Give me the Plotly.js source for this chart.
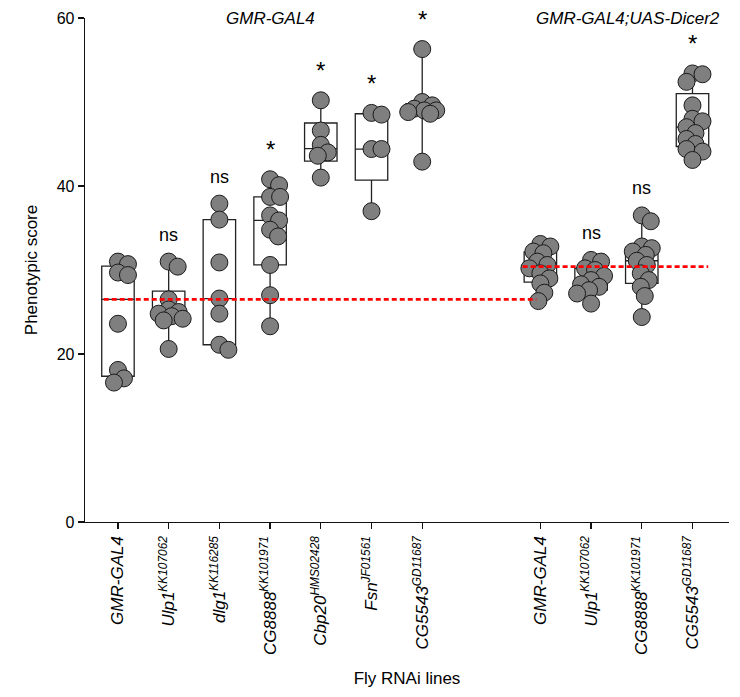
<!DOCTYPE html>
<html><head><meta charset="utf-8">
<script src="https://cdn.plot.ly/plotly-3.0.1.min.js"></script>
<style>html,body{margin:0;padding:0;background:#fff}#chart{width:740px;height:697px}</style>
</head><body><div id="chart"></div>
<script>
// ---- data ----
const groupTitles = ['GMR-GAL4', 'GMR-GAL4;UAS-Dicer2'];
const lines = ['GMR-GAL4', 'Ulp1|KK107062', 'dlg1|KK116285', 'CG8888|KK101971', 'Cbp20|HMS02428', 'Fsn|JF01561', 'CG5543|GD11687',
               'GMR-GAL4', 'Ulp1|KK107062', 'CG8888|KK101971', 'CG5543|GD11687'];
const background = [0, 0, 0, 0, 0, 0, 0, 1, 1, 1, 1];   // 0 = GMR-GAL4, 1 = GMR-GAL4;UAS-Dicer2
const significance = ['', 'ns', 'ns', '*', '*', '*', '*', '', 'ns', 'ns', '*'];

const gmr_GMRGAL4   = [31.0, 30.7, 29.7, 29.4, 23.6, 18.1, 17.1, 16.6];
const gmr_Ulp1      = [31.0, 30.4, 26.5, 25.3, 25.0, 24.8, 24.5, 24.2, 24.0, 20.6];
const gmr_dlg1      = [37.9, 36.0, 30.9, 26.6, 24.8, 21.1, 20.5];
const gmr_CG8888    = [40.8, 40.1, 38.7, 38.7, 36.5, 35.9, 34.8, 34.0, 30.6, 27.0, 23.3];
const gmr_Cbp20     = [50.2, 46.6, 44.9, 44.0, 43.6, 41.0];
const gmr_Fsn       = [48.7, 48.5, 44.4, 44.4, 37.0];
const gmr_CG5543    = [56.3, 50.0, 49.6, 49.2, 49.0, 49.0, 48.8, 48.6, 42.9];
const dcr_GMRGAL4   = [33.1, 32.8, 32.2, 32.0, 31.0, 30.6, 30.2, 29.6, 29.0, 28.4, 27.3, 26.3];
const dcr_Ulp1      = [31.2, 31.0, 30.2, 30.0, 29.3, 28.8, 28.3, 28.0, 27.6, 27.2, 26.0];
const dcr_CG8888    = [36.5, 35.8, 32.8, 32.6, 32.2, 31.8, 31.1, 30.6, 29.6, 28.8, 28.0, 26.9, 24.4];
const dcr_CG5543    = [53.4, 53.3, 52.4, 49.6, 48.0, 47.7, 47.0, 46.3, 45.6, 45.0, 44.4, 44.1, 43.1];

const samples = [gmr_GMRGAL4, gmr_Ulp1, gmr_dlg1, gmr_CG8888, gmr_Cbp20, gmr_Fsn, gmr_CG5543,
                 dcr_GMRGAL4, dcr_Ulp1, dcr_CG8888, dcr_CG5543];

// ---- layout constants ----
const W = 740, H = 697;
const M = {l: 85, r: 11, t: 18, b: 175};
const groupGap = 1.33;
const xRange = [0.35, 13.05];
const yRange = [0, 60];
const FONT = 'Arial, "Liberation Sans", sans-serif';

// category positions
const pos = background.map((b, i) => i + 1 + (b === 1 ? groupGap : 0));

function fmtLabel(s) {
  const p = s.split('|');
  return p.length > 1 ? '<i>' + p[0] + '<sup>' + p[1] + '</sup></i>' : '<i>' + p[0] + '</i>';
}

// exclusive (n+1) quantile like Prism
function quant(arr, q) {
  const a = arr.slice().sort((x, y) => x - y);
  const n = a.length;
  let h = (n + 1) * q;
  if (h < 1) h = 1; if (h > n) h = n;
  const lo = Math.floor(h), f = h - lo;
  if (lo >= n) return a[n - 1];
  return a[lo - 1] + f * (a[lo] - a[lo - 1]);
}
function median(arr) { return quant(arr, 0.5); }

// beeswarm offsets in pixel space (points may overlap, like the reference)
const pxX = (W - M.l - M.r) / (xRange[1] - xRange[0]);
const pxY = (H - M.t - M.b) / (yRange[1] - yRange[0]);
function swarm(vals) {
  const minD = 10, maxOff = 14, placed = [], out = [];
  vals.forEach(v => {
    const py = v * pxY;
    let best = 0, bestScore = -1;
    for (let k = 0; k <= 2 * maxOff; k++) {
      const off = (k % 2 === 1 ? 1 : -1) * Math.ceil(k / 2);
      let dmin = Infinity;
      placed.forEach(p => { const d = Math.hypot(p[0] - off, p[1] - py); if (d < dmin) dmin = d; });
      if (dmin >= minD) { best = off; bestScore = Infinity; break; }
      if (dmin > bestScore) { bestScore = dmin; best = off; }
    }
    placed.push([best, py]);
    out.push(best / pxX);
  });
  return out;
}

const traces = [];
// boxes
samples.forEach((s, i) => {
  traces.push({
    type: 'box', x: [pos[i]],
    q1: [quant(s, 0.25)], median: [median(s)], q3: [quant(s, 0.75)],
    lowerfence: [Math.min(...s)], upperfence: [Math.max(...s)],
    width: 0.64, whiskerwidth: 0.3, boxpoints: false,
    fillcolor: 'rgba(255,255,255,0)', line: {color: '#222', width: 1.3},
    hoverinfo: 'skip', showlegend: false
  });
});
// points
const px = [], py = [];
samples.forEach((s, i) => {
  const offs = swarm(s);
  s.forEach((v, j) => { px.push(pos[i] + offs[j]); py.push(v); });
});
traces.push({
  type: 'scatter', mode: 'markers', x: px, y: py, cliponaxis: false,
  marker: {size: 17, color: '#7f7f7f', line: {color: '#1a1a1a', width: 1}},
  hoverinfo: 'skip', showlegend: false
});

// control medians (red dashed)
const ctrl1 = median(samples[0]);
const ctrl2 = median(samples[7]);
const shapes = [
  {type: 'line', xref: 'x', yref: 'y', x0: 0.72, x1: 9.25, y0: ctrl1, y1: ctrl1,
   line: {color: '#ff0000', width: 2.6, dash: '5px,3px'}},
  {type: 'line', xref: 'x', yref: 'y', x0: 8.98, x1: 12.64, y0: ctrl2, y1: ctrl2,
   line: {color: '#ff0000', width: 2.6, dash: '5px,3px'}}
];

const annotations = [];
significance.forEach((t, i) => {
  if (!t) return;
  annotations.push({
    x: pos[i], y: Math.max(...samples[i]), xref: 'x', yref: 'y',
    text: t, showarrow: false, yanchor: 'bottom', yshift: t === '*' ? 14 : 15,
    font: {family: FONT, size: t === '*' ? 24 : 18, color: '#000'}
  });
});
annotations.push({x: (pos[0] + pos[6]) / 2, y: 60, xref: 'x', yref: 'y', text: '<i>' + groupTitles[0] + '</i>',
  showarrow: false, yanchor: 'middle', font: {family: FONT, size: 17, color: '#000'}});
annotations.push({x: (pos[7] + pos[10]) / 2 + 0.23, y: 60, xref: 'x', yref: 'y', text: '<i>' + groupTitles[1] + '</i>',
  showarrow: false, yanchor: 'middle', font: {family: FONT, size: 17, color: '#000'}});

const layout = {
  width: W, height: H, margin: M,
  paper_bgcolor: '#fff', plot_bgcolor: '#fff',
  font: {family: FONT, color: '#000'},
  showlegend: false, boxmode: 'overlay',
  xaxis: {
    type: 'linear', range: xRange, tickvals: pos, ticktext: lines.map(fmtLabel),
    tickangle: -90, ticks: 'outside', ticklen: 6, tickwidth: 1.3, tickcolor: '#111',
    showline: true, linecolor: '#111', linewidth: 1.3, showgrid: false, zeroline: false,
    tickfont: {family: FONT, size: 17, color: '#000'}, automargin: false,
    title: {text: 'Fly RNAi lines', font: {family: FONT, size: 17, color: '#000'}, standoff: 18}
  },
  yaxis: {
    range: yRange, tickvals: [0, 20, 40, 60], ticks: 'outside', ticklen: 6, tickwidth: 1.3, tickcolor: '#111',
    showline: true, linecolor: '#111', linewidth: 1.3, showgrid: false, zeroline: false,
    tickfont: {family: FONT, size: 16, color: '#000'}, automargin: false,
    title: {text: 'Phenotypic score', font: {family: FONT, size: 17, color: '#000'}, standoff: 14}
  },
  shapes: shapes, annotations: annotations
};

Plotly.newPlot('chart', traces, layout, {displayModeBar: false, staticPlot: true});
</script>
</body></html>
